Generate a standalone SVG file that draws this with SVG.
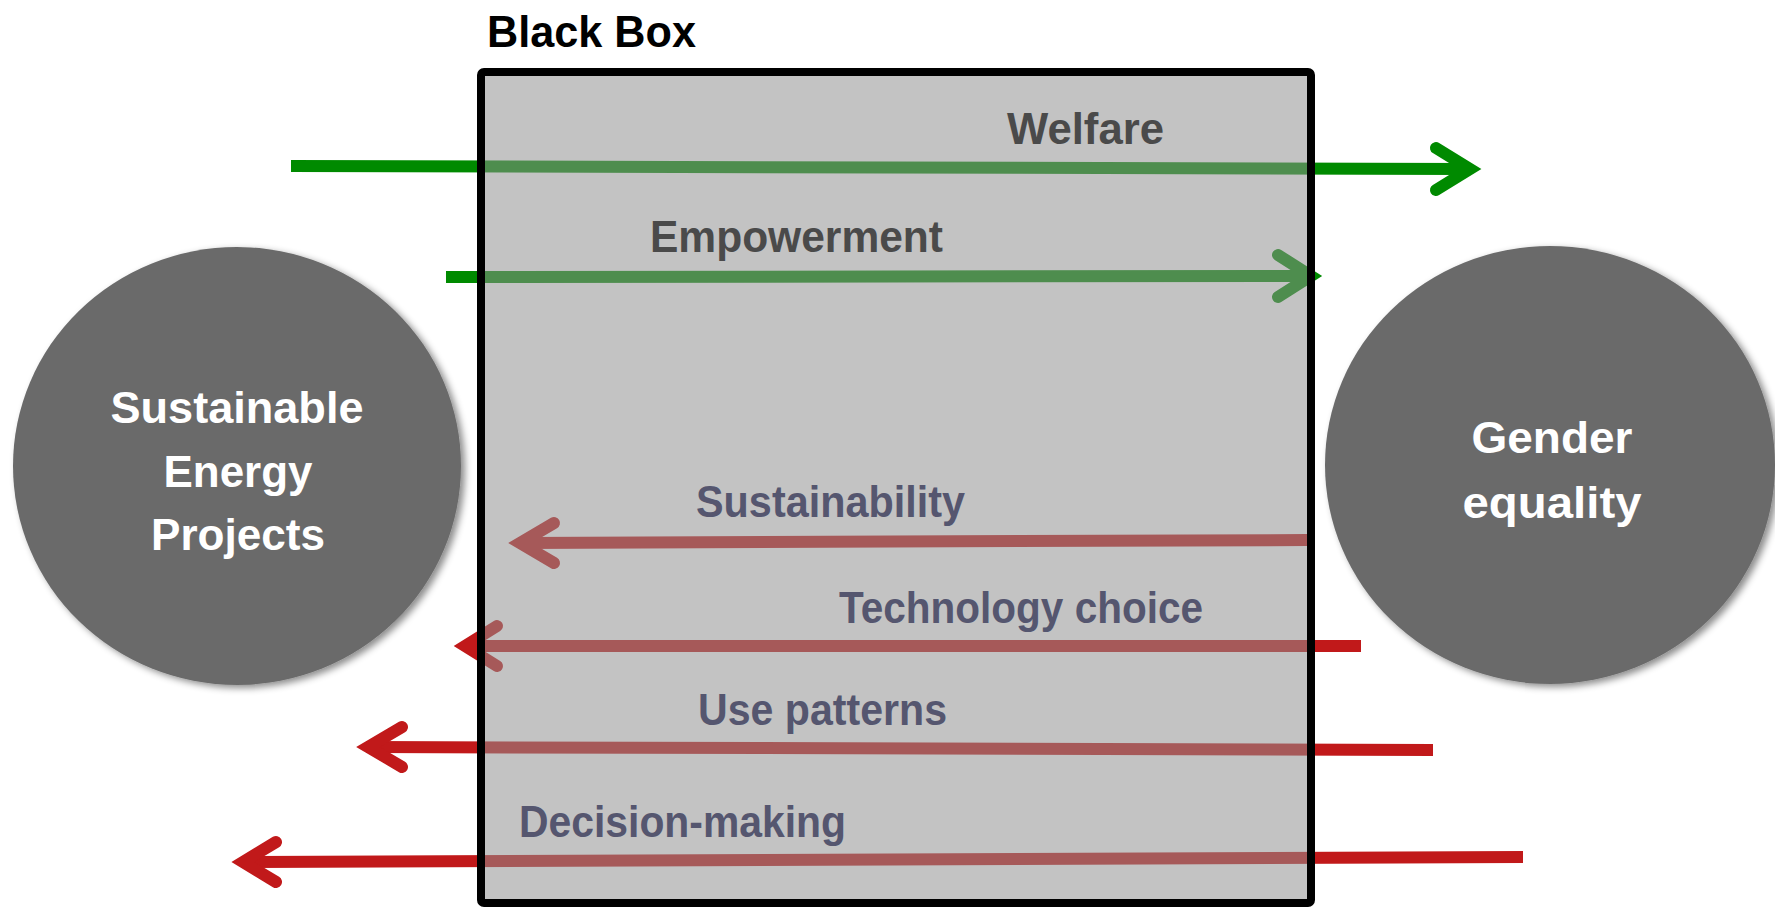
<svg xmlns="http://www.w3.org/2000/svg" width="1775" height="907" viewBox="0 0 1775 907">
  <style>
    .lbl { font-family: "Liberation Sans", Arial, sans-serif; font-weight: bold; font-size: 45px; }
    .node-txt { fill: #ffffff; text-anchor: middle; }
    .green-lbl { fill: #4a4a4a; }
    .red-lbl { fill: #55566f; }
    .g-line { fill: none; stroke: #008a00; stroke-width: 12; stroke-linecap: butt; }
    .r-line { fill: none; stroke: #c1191a; stroke-width: 12; stroke-linecap: butt; }
    .g-head { fill: none; stroke: #008a00; stroke-width: 12; stroke-linecap: round; stroke-linejoin: miter; stroke-miterlimit: 10; }
    .r-head { fill: none; stroke: #c1191a; stroke-width: 12; stroke-linecap: round; stroke-linejoin: miter; stroke-miterlimit: 10; }
    .circle { fill: #6b6b6b; filter: url(#shadow); }
  </style>
  <defs>
    <filter id="shadow" x="-10%" y="-10%" width="125%" height="125%">
      <feDropShadow dx="4" dy="3" stdDeviation="3.5" flood-color="#000000" flood-opacity="0.45"/>
    </filter>
  </defs>

  <rect width="1775" height="907" fill="#ffffff"/>

  <g id="node-sustainable-energy-projects">
    <ellipse class="circle" cx="237" cy="466" rx="224" ry="219"/>
    <text class="lbl node-txt" x="237" y="423" textLength="253" lengthAdjust="spacingAndGlyphs">Sustainable</text>
    <text class="lbl node-txt" x="238" y="487" textLength="149" lengthAdjust="spacingAndGlyphs">Energy</text>
    <text class="lbl node-txt" x="238" y="550" textLength="174" lengthAdjust="spacingAndGlyphs">Projects</text>
  </g>

  <g id="node-gender-equality">
    <ellipse class="circle" cx="1550" cy="465" rx="225" ry="219"/>
    <text class="lbl node-txt" x="1552" y="453" textLength="161" lengthAdjust="spacingAndGlyphs">Gender</text>
    <text class="lbl node-txt" x="1552" y="518" textLength="179" lengthAdjust="spacingAndGlyphs">equality</text>
  </g>

  <g id="connectors">
    <!-- Welfare (to the right) -->
    <path class="g-line" d="M291 166 L1468 169"/>
    <path class="g-head" d="M1436 148 L1470 169 L1436 190"/>
    <!-- Empowerment (to the right) -->
    <path class="g-line" d="M446 277 L1309 276"/>
    <path class="g-head" d="M1278 255 L1311 276 L1278 297"/>
    <!-- Sustainability (to the left) -->
    <path class="r-line" d="M1307 540 L522 543"/>
    <path class="r-head" d="M554 523 L520 543 L554 563"/>
    <!-- Technology choice (to the left) -->
    <path class="r-line" d="M1361 646 L467 646"/>
    <path class="r-head" d="M497 626 L465 646 L497 666"/>
    <!-- Use patterns (to the left) -->
    <path class="r-line" d="M1433 750 L370 747"/>
    <path class="r-head" d="M402 727 L368 747 L402 767"/>
    <!-- Decision-making (to the left) -->
    <path class="r-line" d="M1523 857 L245 862"/>
    <path class="r-head" d="M276 842 L243 862 L276 882"/>
  </g>

  <g id="node-black-box">
    <rect x="481" y="72" width="830" height="831" rx="3" fill="#919191" fill-opacity="0.54"/>
    <rect x="481" y="72" width="830" height="831" rx="3" fill="none" stroke="#000000" stroke-width="8"/>
    <text class="lbl" x="487" y="47" fill="#000000" textLength="209" lengthAdjust="spacingAndGlyphs">Black Box</text>
  </g>

  <g id="labels">
    <text class="lbl green-lbl" x="1007" y="144" textLength="157" lengthAdjust="spacingAndGlyphs">Welfare</text>
    <text class="lbl green-lbl" x="650" y="252" textLength="293" lengthAdjust="spacingAndGlyphs">Empowerment</text>
    <text class="lbl red-lbl" x="696" y="517" textLength="269" lengthAdjust="spacingAndGlyphs">Sustainability</text>
    <text class="lbl red-lbl" x="839" y="623" textLength="364" lengthAdjust="spacingAndGlyphs">Technology choice</text>
    <text class="lbl red-lbl" x="698" y="725" textLength="249" lengthAdjust="spacingAndGlyphs">Use patterns</text>
    <text class="lbl red-lbl" x="519" y="837" textLength="327" lengthAdjust="spacingAndGlyphs">Decision-making</text>
  </g>
</svg>
